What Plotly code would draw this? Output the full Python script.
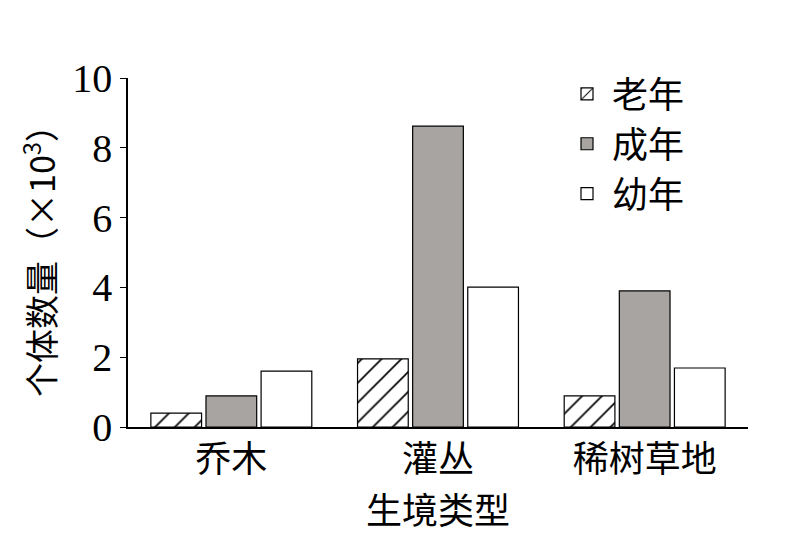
import plotly.graph_objects as go

habitats = ["乔木", "灌丛", "稀树草地"]
old = [0.4, 1.95, 0.89]
adult = [0.89, 8.62, 3.9]
young = [1.6, 4.01, 1.69]

font_cjk = "Noto Sans CJK SC"
font_num = "Liberation Serif"

fig = go.Figure()
fig.add_trace(go.Bar(x=habitats, y=old, name="老年",
                     marker=dict(color="white", line=dict(color="black", width=1.2),
                                 pattern=dict(shape="/", fgcolor="black", fgopacity=1, bgcolor="white",
                                              size=14, solidity=0.12))))
fig.add_trace(go.Bar(x=habitats, y=adult, name="成年",
                     marker=dict(color="#a7a4a1", line=dict(color="black", width=1.2))))
fig.add_trace(go.Bar(x=habitats, y=young, name="幼年",
                     marker=dict(color="white", line=dict(color="black", width=1.2))))

fig.update_layout(
    width=787, height=546,
    paper_bgcolor="white", plot_bgcolor="white",
    barmode="group", bargap=0.2, bargroupgap=0.08,
    margin=dict(l=120, r=47, t=70, b=127),
    legend=dict(x=0.70, y=1.04, xanchor="left", yanchor="top",
                font=dict(family=font_cjk, size=36, color="black"),
                itemwidth=40, tracegroupgap=0, bgcolor="rgba(0,0,0,0)"),
    xaxis=dict(showline=True, linecolor="black", linewidth=1.5, ticks="",
               tickfont=dict(family=font_cjk, size=36, color="black"),
               title=dict(text="生境类型", font=dict(family=font_cjk, size=36, color="black"), standoff=0)),
    yaxis=dict(range=[0, 10], dtick=2, showline=True, linecolor="black", linewidth=1.5,
               ticks="outside", ticklen=6, tickcolor="black", showgrid=False, zeroline=False,
               tickfont=dict(family=font_num, size=40, color="black"),
               title=dict(text="个体数量（×10<sup>3</sup>）", font=dict(family=font_cjk, size=34, color="black"), standoff=6)),
)

fig.write_html("out.html")
